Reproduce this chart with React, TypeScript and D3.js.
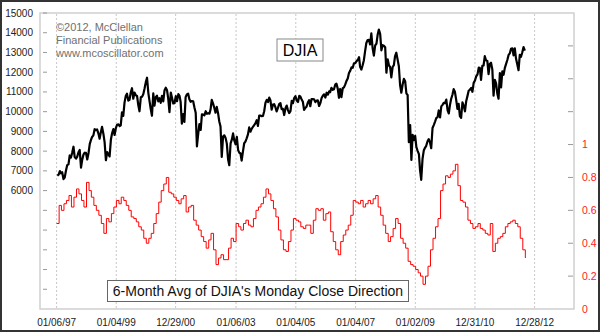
import React from "react";
import * as d3 from "d3";

// ---------- data ----------
const xTickLabels = ["01/06/97", "01/04/99", "12/29/00", "01/06/03", "01/04/05", "01/04/07", "01/02/09", "12/31/10", "12/28/12"];
const leftTickValues = [1000, 2000, 3000, 4000, 5000, 6000, 7000, 8000, 9000, 10000, 11000, 12000, 13000, 14000, 15000];
const leftLabelValues = [6000, 7000, 8000, 9000, 10000, 11000, 12000, 13000, 14000, 15000];
const rightTickValues = [0.2, 0.4, 0.6, 0.8, 1, 1.2, 1.4, 1.6];
const rightLabelValues = [0, 0.2, 0.4, 0.6, 0.8, 1];
const rightLabelText = ["0", "0.2", "0.4", "0.6", "0.8", "1"];

// DJIA, two readings per month (mid-month, month-end), Jan 1997 .. Aug 2012
const djiaStartYear = 1997;
const djiaSemiMonthly = [
  // 1997
  6760, 6813, 6990, 6877, 6930, 6584, 6660, 7009, 7290, 7331, 7780, 7673,
  7920, 8223, 7700, 7622, 7720, 7945, 8060, 7161, 7570, 7823, 7920, 7908,
  // 1998
  7580, 7907, 8370, 8546, 8720, 8800, 9110, 9063, 9100, 8900, 8630, 8952,
  9230, 8883, 8460, 7539, 7950, 7843, 7731, 8592, 8920, 9117, 8820, 9181,
  // 1999
  9340, 9359, 9270, 9307, 9960, 9786, 10460, 10789, 10910, 10560, 10600, 10971,
  11190, 10655, 10970, 10829, 10800, 10337, 10020, 10729, 10760, 10878, 11160, 11497,
  // 2000
  11720, 10941, 10520, 10128, 9796, 10922, 10305, 10734, 10810, 10522, 10680, 10448,
  10800, 10522, 11070, 11215, 11090, 10651, 9975, 10971, 10700, 10415, 10430, 10787,
  // 2001
  10530, 10887, 10800, 10495, 9389, 9879, 9485, 10735, 10870, 10912, 10630, 10502,
  10540, 10523, 10220, 9950, 8236, 8848, 9370, 9075, 9870, 9852, 9810, 10022,
  // 2002
  9890, 9920, 9900, 10106, 10600, 10404, 10200, 9946, 10240, 9925, 9500, 9243,
  7702, 8737, 8800, 8664, 8380, 7592, 7286, 8397, 8580, 8896, 8540, 8342,
  // 2003
  8720, 8054, 7910, 7891, 7524, 7992, 8400, 8480, 8650, 8850, 9200, 8985,
  9130, 9234, 9320, 9416, 9570, 9275, 9800, 9801, 9770, 9782, 10020, 10454,
  // 2004
  10600, 10488, 10710, 10584, 10100, 10358, 10380, 10226, 10010, 10188, 10380, 10435,
  10130, 10140, 9830, 10174, 10310, 10080, 9930, 10027, 10550, 10428, 10690, 10783,
  // 2005
  10560, 10490, 10800, 10766, 10630, 10504, 10090, 10193, 10250, 10467, 10580, 10275,
  10640, 10641, 10630, 10482, 10560, 10569, 10290, 10440, 10690, 10806, 10880, 10718,
  // 2006
  10960, 10865, 11030, 10993, 11210, 11109, 11140, 11367, 11420, 11168, 10706, 11150,
  10740, 11186, 11230, 11381, 11560, 11679, 11960, 12081, 12250, 12222, 12450, 12463,
  // 2007
  12560, 12622, 12760, 12269, 12133, 12354, 12610, 13063, 13480, 13628, 13640, 13409,
  13970, 13212, 12845, 13358, 13440, 13896, 14164, 13930, 13110, 13372, 13340, 13265,
  // 2008
  11971, 12650, 12350, 12266, 11740, 12263, 12360, 12820, 12990, 12638, 12300, 11350,
  10960, 11378, 11660, 11544, 10920, 10851, 8451, 9325, 7552, 8829, 8560, 8776,
  // 2009
  8200, 8001, 7850, 7063, 6547, 7609, 8030, 8168, 8270, 8500, 8610, 8447,
  8146, 9172, 9320, 9496, 9680, 9712, 10060, 9713, 10270, 10345, 10450, 10428,
  // 2010
  10610, 10067, 9908, 10325, 10640, 10857, 11140, 11009, 10620, 10137, 10400, 9774,
  9686, 10466, 10300, 10015, 10530, 10788, 11060, 11118, 11200, 11006, 11460, 11578,
  // 2011
  11790, 11892, 12230, 12226, 11613, 12320, 12340, 12811, 12600, 12570, 11897, 12414,
  12480, 12143, 10810, 11614, 11430, 10913, 10655, 11955, 11231, 12046, 11870, 12218,
  // 2012
  12420, 12633, 12880, 12952, 13190, 13212, 12850, 13214, 12690, 12393, 12101, 12880,
  12780, 13009, 13275, 13091,
];

// 6-month average of Monday close direction, one reading per month from Jan 1997
const mondayAvgMonthly = [
  0.52, 0.63, 0.60, 0.64, 0.66, 0.69, 0.62, 0.68, 0.73, 0.70, 0.66, 0.62,
  0.77, 0.72, 0.68, 0.63, 0.60, 0.57, 0.52, 0.46, 0.55, 0.53, 0.58, 0.62,
  0.66, 0.64, 0.68, 0.66, 0.63, 0.60, 0.56, 0.55, 0.53, 0.50, 0.48, 0.43,
  0.40, 0.43, 0.46, 0.52, 0.58, 0.65, 0.72, 0.76, 0.80, 0.71, 0.70, 0.68,
  0.66, 0.64, 0.67, 0.69, 0.59, 0.62, 0.63, 0.54, 0.51, 0.48, 0.44, 0.41,
  0.37, 0.42, 0.46, 0.36, 0.27, 0.31, 0.33, 0.30, 0.30, 0.37, 0.43, 0.41,
  0.52, 0.50, 0.48, 0.52, 0.54, 0.51, 0.50, 0.55, 0.60, 0.62, 0.64, 0.68,
  0.73, 0.70, 0.66, 0.61, 0.56, 0.48, 0.42, 0.36, 0.35, 0.41, 0.48, 0.55,
  0.54, 0.53, 0.50, 0.49, 0.51, 0.51, 0.46, 0.54, 0.61, 0.60, 0.61, 0.54,
  0.58, 0.59, 0.47, 0.41, 0.36, 0.33, 0.41, 0.45, 0.48, 0.51, 0.57, 0.66,
  0.65, 0.64, 0.66, 0.62, 0.64, 0.66, 0.64, 0.67, 0.69, 0.62, 0.57, 0.51,
  0.46, 0.41, 0.44, 0.49, 0.55, 0.52, 0.43, 0.40, 0.37, 0.29, 0.27, 0.26,
  0.24, 0.22, 0.20, 0.15, 0.20, 0.26, 0.36, 0.43, 0.50, 0.55, 0.72, 0.76,
  0.81, 0.80, 0.82, 0.84, 0.88, 0.75, 0.66, 0.65, 0.62, 0.54, 0.52, 0.49,
  0.50, 0.52, 0.49, 0.48, 0.46, 0.45, 0.52, 0.35, 0.40, 0.43, 0.44, 0.46,
  0.50, 0.52, 0.53, 0.54, 0.52, 0.50, 0.43, 0.36, 0.31,
];

const copyrightLines = ["\u00A92012, McClellan", "Financial Publications", "www.mcoscillator.com"];
const djiaTitle = "DJIA";
const redTitle = "6-Month Avg of DJIA's Monday Close Direction";

// ---------- layout ----------
const W = 600;
const H = 332;
const P = { left: 40, top: 13, right: 574, bottom: 309 };

const parseDate = d3.timeParse("%m/%d/%y");
const tickDates = xTickLabels.map((s) => parseDate(s) as Date);

export default function App() {
  const x = d3
    .scaleTime()
    .domain([tickDates[0], tickDates[tickDates.length - 1]])
    .range([56.6, 534.6]);
  const yL = d3.scaleLinear().domain([0, 15000]).range([P.bottom, P.top]);
  const yR = d3.scaleLinear().domain([0, 1.8]).range([P.bottom, P.top]);

  const djiaPts: [Date, number][] = djiaSemiMonthly.map((v, i) => {
    const m = Math.floor(i / 2);
    const d = i % 2 === 0 ? new Date(djiaStartYear, m, 15) : new Date(djiaStartYear, m + 1, 0);
    return [d, v];
  });
  const redPts: [Date, number][] = mondayAvgMonthly.map((v, i) => [new Date(djiaStartYear, i, 6), v]);

  const djiaLine = d3
    .line<[Date, number]>()
    .x((d) => x(d[0]))
    .y((d) => yL(d[1]));
  const redLine = d3
    .line<[Date, number]>()
    .x((d) => x(d[0]))
    .y((d) => yR(d[1]))
    .curve(d3.curveStepAfter);

  const font = "'Liberation Sans', Arial, sans-serif";

  return (
    <svg
      width={W}
      height={H}
      style={{ position: "absolute", left: 0, top: 0, display: "block" }}
      fontFamily={font}
    >
      <rect x={0} y={0} width={W} height={H} fill="#ffffff" />
      <rect x={1} y={1} width={W - 2} height={H - 2} fill="none" stroke="#333" strokeWidth={2} />

      {/* plot frame */}
      <rect x={P.left} y={P.top} width={P.right - P.left} height={P.bottom - P.top} fill="#fff" stroke="#cfcfcf" strokeWidth={1.5} />

      {/* vertical dotted grid */}
      {tickDates.map((d, i) => (
        <line key={"g" + i} x1={x(d)} x2={x(d)} y1={P.top + 1} y2={P.bottom - 1} stroke="#c8c8c8" strokeWidth={1} strokeDasharray="2,2" />
      ))}

      {/* left ticks */}
      {leftTickValues.map((v) => (
        <line key={"lt" + v} x1={P.left + 3} x2={P.left + 7} y1={yL(v)} y2={yL(v)} stroke="#999" strokeWidth={1} />
      ))}
      {leftLabelValues.map((v) => (
        <text key={"ll" + v} x={33} y={yL(v)} dy="0.35em" textAnchor="end" fontSize={10} fill="#222">
          {v}
        </text>
      ))}

      {/* right ticks */}
      {rightTickValues.map((v) => (
        <line key={"rt" + v} x1={P.right - 6} x2={P.right - 1} y1={yR(v)} y2={yR(v)} stroke="#999" strokeWidth={1} />
      ))}
      {rightLabelValues.map((v, i) => (
        <text key={"rl" + v} x={582} y={yR(v)} dy="0.35em" textAnchor="start" fontSize={10.5} fill="#ff2020">
          {rightLabelText[i]}
        </text>
      ))}

      {/* x labels */}
      {tickDates.map((d, i) => (
        <text key={"xl" + i} x={x(d)} y={326} textAnchor="middle" fontSize={10} fill="#222" fontFamily="'Liberation Sans Narrow', 'Liberation Sans', Arial, sans-serif">
          {xTickLabels[i]}
        </text>
      ))}

      {/* series */}
      <path d={redLine(redPts) || ""} fill="none" stroke="#ff0000" strokeWidth={1} />
      <path d={djiaLine(djiaPts) || ""} fill="none" stroke="#000" strokeWidth={2.2} strokeLinejoin="round" />

      {/* copyright */}
      {copyrightLines.map((s, i) => (
        <text key={"c" + i} x={56} y={30.5 + i * 13.3} fontSize={11} fill="#707070">
          {s}
        </text>
      ))}

      {/* DJIA label */}
      <rect x={277} y={39} width={46} height={22} fill="#fff" stroke="#888" strokeWidth={1} />
      <text x={300} y={56} textAnchor="middle" fontSize={16} fill="#000">
        {djiaTitle}
      </text>

      {/* red series label */}
      <rect x={107.5} y={280.5} width={301} height={21} fill="#fff" stroke="#666" strokeWidth={1} />
      <text x={258} y={296} textAnchor="middle" fontSize={14} fill="#111">
        {redTitle}
      </text>
    </svg>
  );
}
